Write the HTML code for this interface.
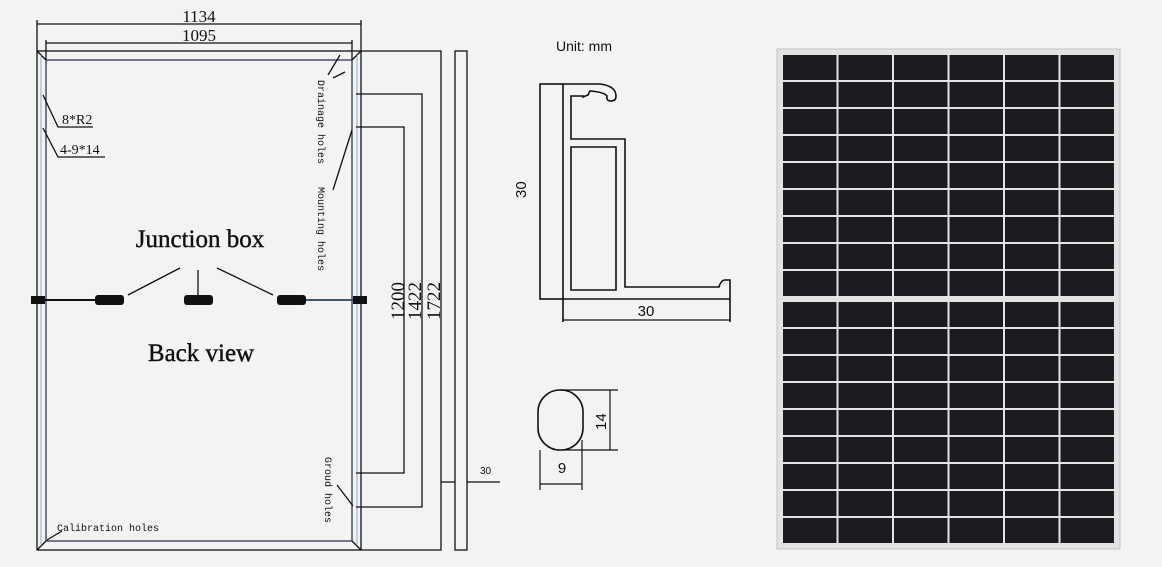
<!DOCTYPE html>
<html><head><meta charset="utf-8"><style>
html,body{margin:0;padding:0;background:#f3f3f3;}
svg{display:block}
</style></head><body>
<svg width="1162" height="567" viewBox="0 0 1162 567" xmlns="http://www.w3.org/2000/svg">
<defs>
<pattern id="cell" x="782" y="54" width="55.5" height="27" patternUnits="userSpaceOnUse">
<rect x="0" y="0" width="55.5" height="27" fill="#e4e4e4"/>
<rect x="1" y="1" width="53.5" height="25" fill="#1c1c20"/>
</pattern>
<pattern id="cell2" x="782" y="301" width="55.5" height="27" patternUnits="userSpaceOnUse">
<rect x="0" y="0" width="55.5" height="27" fill="#e4e4e4"/>
<rect x="1" y="1" width="53.5" height="25" fill="#1c1c20"/>
</pattern>
</defs>
<rect width="1162" height="567" fill="#f3f3f3"/>

<g fill="none" stroke="#111" stroke-width="1.3">
<line x1="37" y1="24" x2="361" y2="24"/>
<line x1="37" y1="20" x2="37" y2="51"/><line x1="361" y1="20" x2="361" y2="51"/>
<line x1="46" y1="43" x2="352" y2="43"/>
<line x1="46" y1="40" x2="46" y2="60"/><line x1="352" y1="40" x2="352" y2="60"/>
<rect x="37" y="51" width="324" height="499"/>
<rect x="46" y="60" width="306" height="481" stroke="#335"/>
<line x1="37" y1="51" x2="46" y2="60"/><line x1="361" y1="51" x2="352" y2="60"/>
<line x1="37" y1="550" x2="46" y2="541"/><line x1="361" y1="550" x2="352" y2="541"/>
<line x1="41" y1="55" x2="41" y2="546" stroke="#7a9ab0" stroke-width="0.8"/>
<line x1="357" y1="55" x2="357" y2="546" stroke="#7a9ab0" stroke-width="0.8"/>
<polyline points="361,51 441,51 441,550 361,550"/>
<polyline points="356,94 422,94 422,507 356,507"/>
<polyline points="356,127 404,127 404,473 356,473"/>
<rect x="455" y="51" width="12" height="499"/>
<line x1="441" y1="482" x2="455" y2="482"/>
<line x1="467" y1="482" x2="500" y2="482"/>
<polyline points="43,95 58,127 93,127"/>
<polyline points="43,128 58,157 105,157"/>
<line x1="340" y1="55" x2="328" y2="75"/><line x1="345" y1="72" x2="333" y2="78"/>
<line x1="352" y1="130" x2="333" y2="190"/>
<line x1="337" y1="485" x2="353" y2="506"/>
<line x1="47" y1="540" x2="62" y2="531"/>
<line x1="128" y1="295" x2="180" y2="268"/>
<line x1="198" y1="270" x2="198" y2="296"/>
<line x1="217" y1="268" x2="273" y2="295"/>
<line x1="32" y1="300" x2="95" y2="300" stroke-width="2"/>
<line x1="305" y1="300" x2="366" y2="300" stroke-width="2" stroke="#456"/>
</g>
<g fill="#111">
<rect x="95" y="295" width="29" height="10" rx="3"/>
<rect x="184" y="295" width="29" height="10" rx="3"/>
<rect x="277" y="295" width="29" height="10" rx="3"/>
<rect x="31" y="296" width="14" height="8"/>
<rect x="353" y="296" width="14" height="8"/>
</g>
<g font-family="'Liberation Serif',serif" fill="#111">
<text x="199" y="22" font-size="17" text-anchor="middle">1134</text>
<text x="199" y="41" font-size="17" text-anchor="middle">1095</text>
<text x="200" y="247" font-size="25" text-anchor="middle" stroke="#111" stroke-width="0.4">Junction box</text>
<text x="201" y="361" font-size="25" text-anchor="middle" stroke="#111" stroke-width="0.4">Back view</text>
<text x="62" y="124" font-size="14">8*R2</text>
<text x="60" y="154" font-size="14">4-9*14</text>
<text font-size="19" transform="translate(404,320) rotate(-90)">1200</text>
<text font-size="19" transform="translate(421,320) rotate(-90)">1422</text>
<text font-size="19" transform="translate(440,320) rotate(-90)">1722</text>
</g>
<g font-family="'Liberation Mono',monospace" font-size="10" fill="#111">
<text transform="translate(318,80) rotate(90)">Drainage holes</text>
<text transform="translate(318,187) rotate(90)">Mounting holes</text>
<text transform="translate(325,457) rotate(90)">Groud holes</text>
<text x="57" y="531">Calibration holes</text>
<text x="480" y="474" font-family="'Liberation Sans',sans-serif">30</text>
</g>

<text x="556" y="51" font-family="'Liberation Sans',sans-serif" font-size="14" fill="#111">Unit: mm</text>
<g fill="none" stroke="#111" stroke-width="1.6">
<rect x="540" y="84" width="23" height="215"/>
<path d="M563,84 L600,84 Q616,86 616,96 Q616,101 611,101 Q606,101 607,96 Q604,92 590,91 L588,95 L583,97 L583,96 L571,96 L571,139 L625,139 L625,287 L719,287 Q721,280 725,280 L730,280 L730,299 L563,299"/>
<path d="M571,147 L616,147 L616,290 L571,290 Z"/>
<line x1="563" y1="299" x2="563" y2="322"/><line x1="730" y1="299" x2="730" y2="322"/>
<line x1="563" y1="320" x2="730" y2="320" stroke-width="1.2"/>
<rect x="538" y="390" width="45" height="60" rx="22" ry="22"/>
<line x1="560" y1="390" x2="618" y2="390" stroke-width="1.2"/>
<line x1="565" y1="450" x2="618" y2="450" stroke-width="1.2"/>
<line x1="610" y1="390" x2="610" y2="450" stroke-width="1.2"/>
<line x1="540" y1="450" x2="540" y2="490" stroke-width="1.2"/>
<line x1="582" y1="440" x2="582" y2="490" stroke-width="1.2"/>
<line x1="540" y1="484" x2="582" y2="484" stroke-width="1.2"/>
</g>
<g font-family="'Liberation Sans',sans-serif" font-size="15" fill="#111">
<text x="646" y="316" text-anchor="middle">30</text>
<text transform="translate(526,198) rotate(-90)">30</text>
<text transform="translate(606,430) rotate(-90)">14</text>
<text x="562" y="473" text-anchor="middle">9</text>
</g>

<rect x="777" y="49" width="343" height="500" fill="#e2e2e2" stroke="#c4c4c4"/>
<rect x="782" y="54" width="333" height="243" fill="url(#cell)"/>
<rect x="782" y="301" width="333" height="243" fill="url(#cell2)"/>
</svg>
</body></html>
